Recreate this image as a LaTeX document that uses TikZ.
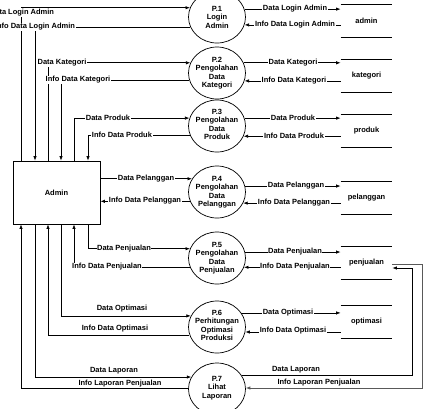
\documentclass[tikz,border=0pt]{standalone}
\usepackage{fontspec}
\setmainfont{Liberation Sans}
\usetikzlibrary{arrows.meta,shapes.geometric}
\begin{document}
\begin{tikzpicture}[x=1pt,y=-1pt,line width=0.7pt,
  f/.style={font=\bfseries\fontsize{7.5}{8.5}\selectfont},
  proc/.style={ellipse,draw,minimum width=57pt,minimum height=52pt,inner sep=0pt},
  ptxt/.style={f,align=center,inner sep=0pt},
  store/.style={f,minimum width=51pt,minimum height=32pt,inner sep=0pt,
    append after command={\pgfextra{\let\tmpnode\tikzlastnode}
      (\tmpnode.north west) edge (\tmpnode.north east)
      (\tmpnode.south west) edge (\tmpnode.south east)}},
  ent/.style={f,draw,minimum width=87pt,minimum height=63pt,inner sep=0pt},
  lbl/.style={f,fill=white,inner sep=0.6pt},
  txt/.style={f,inner sep=0.4pt},
  arr/.style={-{Latex[length=4.5pt,width=3.4pt]}}]
\useasboundingbox (0,0) rectangle (423,408);

% entity
\node[ent] (admin) at (56.5,192.5) {Admin};

% processes
\node[proc] (p1) at (217,17) {};
\node[proc] (p2) at (217,73) {};
\node[proc] (p3) at (217,126) {};
\node[proc] (p4) at (217,192) {};
\node[proc] (p5) at (217,258) {};
\node[proc] (p6) at (217,327) {};
\node[proc] (p7) at (217,389) {};
\node[ptxt] (t1) at (p1) {P.1\\Login\\Admin};
\node[ptxt] (t2) at (p2) {P.2\\Pengolahan\\Data\\Kategori};
\node[ptxt] (t3) at (217,124.5) {P.3\\Pengolahan\\Data\\Produk};
\node[ptxt] (t4) at (p4) {P.4\\Pengolahan\\Data\\Pelanggan};
\node[ptxt] (t5) at (p5) {P.5\\Pengolahan\\Data\\Penjualan};
\node[ptxt] (t6) at (217,325.5) {P.6\\Perhitungan\\Optimasi\\Produksi};
\node[ptxt] (t7) at (217,388) {P.7\\Lihat\\Laporan};

% data stores
\node[store] (sadmin) at (366.5,21) {admin};
\node[store] (skat) at (366.5,76) {kategori};
\node[store] (sprod) at (366.5,131) {produk};
\node[store] (spel) at (366.5,197.5) {pelanggan};
\node[store] (spenj) at (366.5,263) {penjualan};
\node[store] (sopt) at (366.5,322) {optimasi};

% columns under/over admin
\coordinate (c1) at (21,0);
\coordinate (c2) at (35,0);
\coordinate (c3) at (48,0);
\coordinate (c4) at (61,0);
\coordinate (c5) at (74,0);
\coordinate (c6) at (88,0);
\coordinate (r1) at (412,268);
\coordinate (r2) at (422,264);

% admin <-> processes (top)
\draw[arr] (admin.north -| c1) |- (p1.161);
\draw[arr] (p1.201) -| (admin.north -| c2);
\draw[arr] (admin.north -| c3) |- (p2.159);
\draw[arr] (p2.194) -| (admin.north -| c4);
\draw[arr] (admin.north -| c5) |- (p3.164);
\draw[arr] (p3.199) -| (admin.north -| c6);
% right of admin
\draw[arr] (admin.east |- p4.152) -- (p4.152);
\draw[arr] (p4.199) -- (p4.199 -| admin.east);
% bottom
\draw[arr] (admin.south -| c6) |- (p5.161);
\draw[arr] (p5.199) -| (admin.south -| c5);
\draw[arr] (admin.south -| c4) |- (p6.157);
\draw[arr] (p6.196) -| (admin.south -| c3);
\draw[arr] (admin.south -| c2) |- (p7.155);
\draw[arr] (p7.178) -| (admin.south -| c1);

% processes <-> stores
\draw[arr] (p1.16) -- (p1.16 -| sadmin.west);
\draw[arr] (sadmin.west |- p1.344) -- (p1.344);
\draw[arr] (p2.21) -- (p2.21 -| skat.west);
\draw[arr] (skat.west |- p2.344) -- (p2.344);
\draw[arr] (p3.16) -- (p3.16 -| sprod.west);
\draw[arr] (sprod.west |- p3.339) -- (p3.339);
\draw[arr] (p4.12) -- (p4.12 -| spel.west);
\draw[arr] (spel.west |- p4.337) -- (p4.337);
\draw[arr] (p5.12) -- (p5.12 -| spenj.west);
\draw[arr] (spenj.west |- p5.341) -- (p5.341);
\draw[arr] (p6.30) -- (p6.30 -| sopt.west);
\draw[arr] (sopt.west |- p6.350) -- (p6.350);
\draw[arr] (p7.28) -| (r1) -- (r1 -| spenj.east);
\draw[arr,black!65] (spenj.east |- r2) -- (r2) |- (p7.2);

% labels, left
\node[lbl] at (22,12.5) {Data Login Admin};
\node[lbl] at (35,27) {Info Data Login Admin};
\node[lbl] at (62,63) {Data Kategori};
\node[lbl] at (78,80) {Info Data Kategori};
\node[lbl] at (108,118) {Data Produk};
\node[lbl] at (122,135) {Info Data Produk};
\node[lbl] at (146,179) {Data Pelanggan};
\node[lbl] at (145,201) {Info Data Pelanggan};
\node[lbl] at (124,249) {Data Penjualan};
\node[lbl] at (107,267) {Info Data Penjualan};
\node[txt] at (122,309) {Data Optimasi};
\node[txt] at (115,329) {Info Data Optimasi};
\node[txt] at (114,371) {Data Laporan};
\node[txt] at (120,383.5) {Info Laporan Penjualan};
% labels, right
\node[lbl] at (295,9) {Data Login Admin};
\node[lbl] at (295,25) {Info Data Login Admin};
\node[lbl] at (293,63) {Data Kategori};
\node[lbl] at (294,81) {Info Data Kategori};
\node[lbl] at (293,118) {Data Produk};
\node[lbl] at (294,136) {Info Data Produk};
\node[lbl] at (296,186) {Data Pelanggan};
\node[lbl] at (294,203) {Info Data Pelanggan};
\node[lbl] at (295,252) {Data Penjualan};
\node[lbl] at (295,267) {Info Data Penjualan};
\node[lbl] at (288,313) {Data Optimasi};
\node[lbl] at (293,331) {Info Data Optimasi};
\node[txt] at (296,370) {Data Laporan};
\node[txt] at (319,383) {Info Laporan Penjualan};
\end{tikzpicture}
\end{document}
